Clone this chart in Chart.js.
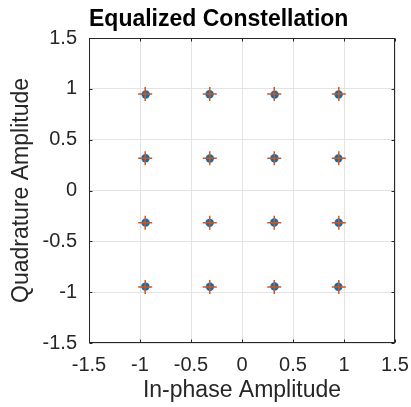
<!DOCTYPE html>
<html>
<head>
<meta charset="utf-8">
<script src="https://cdn.jsdelivr.net/npm/chart.js@4.4.1/dist/chart.umd.min.js"></script>
<style>
  html, body { margin: 0; padding: 0; background: #fff; }
  #wrap { width: 411px; height: 407px; }
</style>
</head>
<body>
<div id="wrap"><canvas id="constellation" width="411" height="407"></canvas></div>
<script>
// equalized 16-QAM symbols (I / Q)
const rxI = [-0.944, -0.318, 0.320, 0.947,
             -0.946, -0.315, 0.318, 0.945,
             -0.945, -0.317, 0.316, 0.948,
             -0.947, -0.314, 0.319, 0.944];
const rxQ = [0.944, 0.946, 0.943, 0.945,
             0.318, 0.315, 0.317, 0.316,
             -0.316, -0.318, -0.315, -0.317,
             -0.945, -0.947, -0.944, -0.946];

// reference constellation points
const refI = [-0.949, -0.316, 0.316, 0.949,
              -0.949, -0.316, 0.316, 0.949,
              -0.949, -0.316, 0.316, 0.949,
              -0.949, -0.316, 0.316, 0.949];
const refQ = [0.949, 0.949, 0.949, 0.949,
              0.316, 0.316, 0.316, 0.316,
              -0.316, -0.316, -0.316, -0.316,
              -0.949, -0.949, -0.949, -0.949];

const axisTicks = [-1.5, -1, -0.5, 0, 0.5, 1, 1.5];
const tickLabels = ['-1.5', '-1', '-0.5', '0', '0.5', '1', '1.5'];

const FONT = 'Liberation Sans, Arial, Helvetica, sans-serif';
const TEXT = '#262626';

// matlab style box with inward ticks
const boxPlugin = {
    id: 'matlabBox',
    afterDraw(chart) {
        const { ctx, chartArea: a, scales } = chart;
        const L = Math.round(a.left) + 0.5, R = Math.round(a.right) - 0.5;
        const T = Math.round(a.top) + 0.5, B = Math.round(a.bottom) - 0.5;
        const tick = 3;
        ctx.save();
        ctx.strokeStyle = TEXT;
        ctx.lineWidth = 1;
        ctx.strokeRect(L, T, R - L, B - T);
        ctx.beginPath();
        axisTicks.forEach(v => {
            const px = Math.round(scales.x.getPixelForValue(v)) + 0.5;
            ctx.moveTo(px, B); ctx.lineTo(px, B - tick);
            ctx.moveTo(px, T); ctx.lineTo(px, T + tick);
            const py = Math.round(scales.y.getPixelForValue(v)) + 0.5;
            ctx.moveTo(L, py); ctx.lineTo(L + tick, py);
            ctx.moveTo(R, py); ctx.lineTo(R - tick, py);
        });
        ctx.stroke();
        ctx.restore();
    }
};

const toPoints = (xs, ys) => xs.map((v, i) => ({ x: v, y: ys[i] }));
const tickText = v => tickLabels[axisTicks.indexOf(v)] ?? String(v);

new Chart(document.getElementById('constellation'), {
    type: 'scatter',
    data: {
        datasets: [
            {
                label: 'Reference',
                data: toPoints(refI, refQ),
                pointStyle: 'cross',
                pointRadius: 7,
                pointBorderColor: '#D95319',
                pointBorderWidth: 1.5,
                order: 0
            },
            {
                label: 'Equalized',
                data: toPoints(rxI, rxQ),
                pointStyle: 'circle',
                pointRadius: 4.2,
                pointBackgroundColor: '#0072BD',
                pointBorderColor: '#0072BD',
                pointBorderWidth: 0,
                order: 1
            }
        ]
    },
    options: {
        responsive: false,
        animation: false,
        devicePixelRatio: 1,
        layout: { padding: { left: 0, right: 16, top: 0, bottom: 0 } },
        plugins: {
            legend: { display: false },
            tooltip: { enabled: false },
            title: {
                display: true,
                text: 'Equalized Constellation',
                align: 'start',
                fullSize: false,
                color: '#000',
                font: { family: FONT, size: 23, weight: 'bold', lineHeight: 1 },
                padding: { top: 8, bottom: 7 }
            }
        },
        scales: {
            x: {
                type: 'linear',
                min: -1.5,
                max: 1.5,
                afterBuildTicks: s => { s.ticks = axisTicks.map(v => ({ value: v })); },
                afterFit: s => { s.height = 64; s.paddingLeft = 0; s.paddingRight = 0; },
                grid: { color: '#e3e3e3', drawTicks: false },
                border: { display: false },
                ticks: { padding: 10, color: TEXT, maxRotation: 0, autoSkip: false, callback: tickText, font: { family: FONT, size: 20 } },
                title: {
                    display: true,
                    text: 'In-phase Amplitude',
                    color: TEXT,
                    font: { family: FONT, size: 23, lineHeight: 1 },
                    padding: { top: 0, bottom: 5 }
                }
            },
            y: {
                type: 'linear',
                min: -1.5,
                max: 1.5,
                afterBuildTicks: s => { s.ticks = axisTicks.map(v => ({ value: v })); },
                afterFit: s => { s.width = 89; s.paddingTop = 0; s.paddingBottom = 0; },
                grid: { color: '#e3e3e3', drawTicks: false },
                border: { display: false },
                ticks: { padding: 12, color: TEXT, autoSkip: false, callback: tickText, font: { family: FONT, size: 20 } },
                title: {
                    display: true,
                    text: 'Quadrature Amplitude',
                    color: TEXT,
                    font: { family: FONT, size: 23, lineHeight: 1 },
                    padding: { top: 10, bottom: 0 }
                }
            }
        }
    },
    plugins: [boxPlugin]
});
</script>
</body>
</html>
